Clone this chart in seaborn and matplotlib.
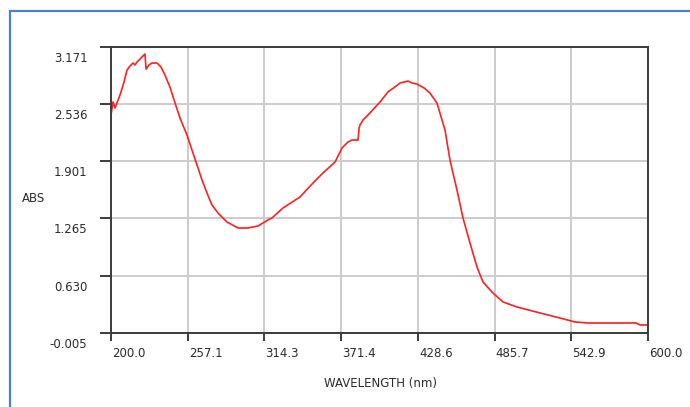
import numpy as np
import pandas as pd
import seaborn as sns
import matplotlib.pyplot as plt
import matplotlib.patches as patches
from matplotlib.transforms import ScaledTranslation

# spectrum (wavelength in nm, absorbance)
wavelength = [200.0, 201.5, 203.0, 206.7, 209.7, 211.9, 214.2, 216.4, 217.9, 219.4,
              220.9, 222.3, 225.3, 226.1, 228.3, 230.5, 234.3, 237.2, 240.2, 243.9,
              247.7, 251.4, 256.6, 260.3, 264.1, 267.8, 271.5, 275.2, 279.7, 286.4,
              294.6, 302.0, 309.5, 316.9, 319.9, 328.1, 340.8, 350.5, 357.9, 366.9,
              372.1, 376.5, 379.5, 384.0, 384.8, 385.5, 387.7, 392.9, 400.4, 406.3,
              411.5, 415.3, 421.2, 424.2, 427.9, 433.2, 437.6, 442.8, 448.8, 452.5,
              457.7, 462.2, 467.4, 472.6, 477.1, 484.5, 492.0, 502.4, 519.6, 534.5,
              545.6, 554.6, 591.1, 594.1, 600.0]
absorbance = [2.412, 2.556, 2.489, 2.633, 2.777, 2.910, 2.955, 2.988, 2.966, 2.999,
              3.021, 3.043, 3.088, 2.921, 2.966, 2.988, 2.988, 2.944, 2.855, 2.722,
              2.545, 2.378, 2.190, 2.024, 1.857, 1.691, 1.547, 1.414, 1.325, 1.225,
              1.159, 1.159, 1.181, 1.248, 1.270, 1.381, 1.503, 1.658, 1.769, 1.891,
              2.046, 2.112, 2.134, 2.134, 2.267, 2.301, 2.356, 2.434, 2.556, 2.667,
              2.722, 2.766, 2.788, 2.766, 2.755, 2.711, 2.655, 2.545, 2.245, 1.913,
              1.580, 1.270, 0.993, 0.727, 0.560, 0.438, 0.339, 0.283, 0.217, 0.161,
              0.117, 0.106, 0.106, 0.084, 0.084]

x_ticks = [200.0, 257.1, 314.3, 371.4, 428.6, 485.7, 542.9, 600.0]
y_ticks = [-0.005, 0.630, 1.265, 1.901, 2.536, 3.171]

df = pd.DataFrame({'wavelength': wavelength, 'abs': absorbance})

sns.set_style('white')
plt.rcParams['font.family'] = ['DejaVu Sans']

fig = plt.figure(figsize=(6.9, 4.07), dpi=100)
ax = fig.add_axes([111 / 690, 1 - 333 / 407, 537 / 690, 286.5 / 407])

sns.lineplot(data=df, x='wavelength', y='abs', ax=ax, color='#ff2020',
             linewidth=1.2, estimator=None)

ax.set_xlim(200, 600)
ax.set_ylim(-0.005, 3.171)
ax.set_xticks(x_ticks)
ax.set_xticklabels([f'{v:.1f}' for v in x_ticks])
ax.set_yticks(y_ticks)
ax.set_yticklabels([f'{v:.3f}' for v in y_ticks])

ax.grid(True, color='#cccccc', linewidth=1.4)
ax.set_axisbelow(True)
for s in ax.spines.values():
    s.set_visible(True)
    s.set_color('#3c3c3c')
    s.set_linewidth(1.4)

ax.tick_params(axis='x', length=6, width=1.4, color='#3c3c3c', pad=4,
               labelsize=8.5, labelcolor='#2b2b2b', bottom=True, direction='out')
ax.tick_params(axis='y', length=8, width=1.4, color='#3c3c3c', pad=9,
               labelsize=8.5, labelcolor='#2b2b2b', left=True, direction='out')

# x labels sit to the right of the tick, y labels sit below the tick
for lab in ax.get_xticklabels():
    lab.set_horizontalalignment('left')
    lab.set_transform(lab.get_transform() + ScaledTranslation(1 / 100, 0, fig.dpi_scale_trans))
for lab in ax.get_yticklabels():
    lab.set_transform(lab.get_transform() + ScaledTranslation(0, -10 / 100, fig.dpi_scale_trans))

ax.set_xlabel('WAVELENGTH (nm)', fontsize=8.5, color='#2b2b2b')
ax.set_ylabel('ABS', fontsize=8.5, color='#2b2b2b', rotation=0)
ax.xaxis.set_label_coords(0.501, -0.154)
ax.yaxis.set_label_coords(-0.145, 0.468)
ax.yaxis.label.set_verticalalignment('center')
ax.yaxis.label.set_horizontalalignment('center')

# blue window frame
frame = patches.Rectangle((10 / 690, -0.05), 1.2, 1 - 11 / 407 + 0.05,
                          transform=fig.transFigure, fill=False,
                          edgecolor='#4a7fd4', linewidth=1.6, clip_on=False)
fig.patches.append(frame)

fig.savefig('out.png', dpi=100)
